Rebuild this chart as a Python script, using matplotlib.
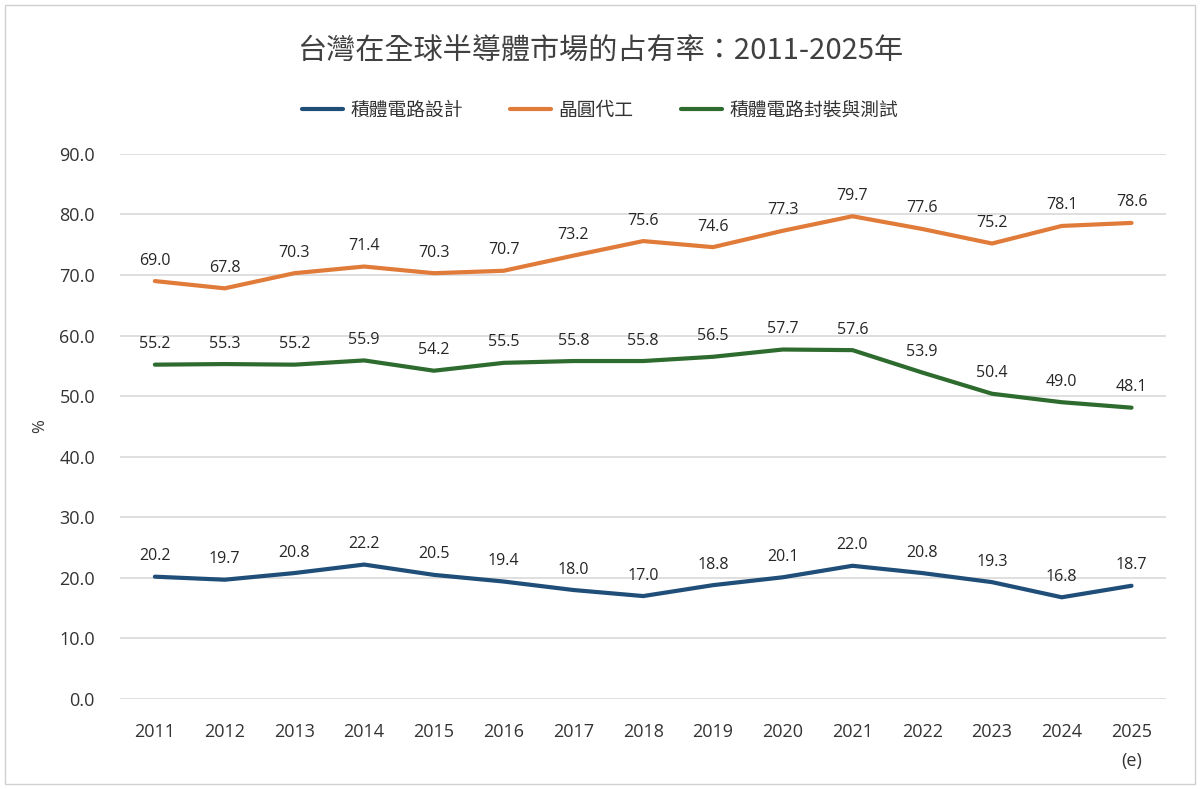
import numpy as np
import matplotlib.pyplot as plt
from matplotlib.patches import Rectangle

plt.rcParams['font.family'] = ['Open Sans', 'Noto Sans CJK TC', 'DejaVu Sans']

years = list(range(2011, 2026))
year_labels = [str(y) for y in years[:-1]] + ['2025\n(e)']
ic_design = [20.2, 19.7, 20.8, 22.2, 20.5, 19.4, 18.0, 17.0, 18.8, 20.1, 22.0, 20.8, 19.3, 16.8, 18.7]
foundry = [69.0, 67.8, 70.3, 71.4, 70.3, 70.7, 73.2, 75.6, 74.6, 77.3, 79.7, 77.6, 75.2, 78.1, 78.6]
packaging = [55.2, 55.3, 55.2, 55.9, 54.2, 55.5, 55.8, 55.8, 56.5, 57.7, 57.6, 53.9, 50.4, 49.0, 48.1]

series = [
    ('積體電路設計', ic_design, '#1f4e79'),
    ('晶圓代工', foundry, '#e07b39'),
    ('積體電路封裝與測試', packaging, '#2e6b2e'),
]
cjk = ['Noto Sans CJK TC', 'DejaVu Sans']

fig = plt.figure(figsize=(12, 7.89), dpi=100)
ax = fig.add_axes([0.1, 0.114, 0.872, 0.691])

for name, vals, col in series:
    ax.plot(years, vals, color=col, linewidth=3, label=name, solid_capstyle='round')
    for x, v in zip(years, vals):
        ax.annotate(f'{v:.1f}', (x, v), xytext=(0, 9), textcoords='offset points',
                    ha='center', va='bottom', fontsize=11.5, color='#262626')

ax.set_xlim(2010.5, 2025.5)
ax.set_ylim(0, 90)
ax.set_yticks(np.arange(0, 91, 10))
ax.set_yticklabels([f'{v:.1f}' for v in np.arange(0, 91, 10)])
ax.set_xticks(years)
ax.set_xticklabels(year_labels)
ax.tick_params(axis='both', length=0, labelsize=13, labelcolor='#333333')
ax.tick_params(axis='x', pad=17)
ax.tick_params(axis='y', pad=18)
for lab in ax.get_xticklabels():
    lab.set_linespacing(1.8)
ax.grid(axis='y', color='#d9d9d9', linewidth=1.2)
ax.set_axisbelow(True)
for s in ax.spines.values():
    s.set_visible(False)
ax.set_ylabel('%', fontsize=12, color='#333333', labelpad=8)

fig.text(0.5, 0.935, '台灣在全球半導體市場的占有率：2011-2025年', ha='center', va='center',
         fontsize=21, color='#404040', family=cjk)
ax.legend(loc='center', bbox_to_anchor=(0.5, 0.86), bbox_transform=fig.transFigure,
          ncol=3, frameon=False, prop={'family': cjk, 'size': 13.5}, handlelength=2.2,
          handletextpad=0.4, columnspacing=2.5, labelcolor='#333333')

fig.patches.append(Rectangle((0.004, 0.006), 0.992, 0.988, transform=fig.transFigure,
                             fill=False, edgecolor='#d0d0d0', linewidth=1))

fig.savefig('out.png', dpi=100)
